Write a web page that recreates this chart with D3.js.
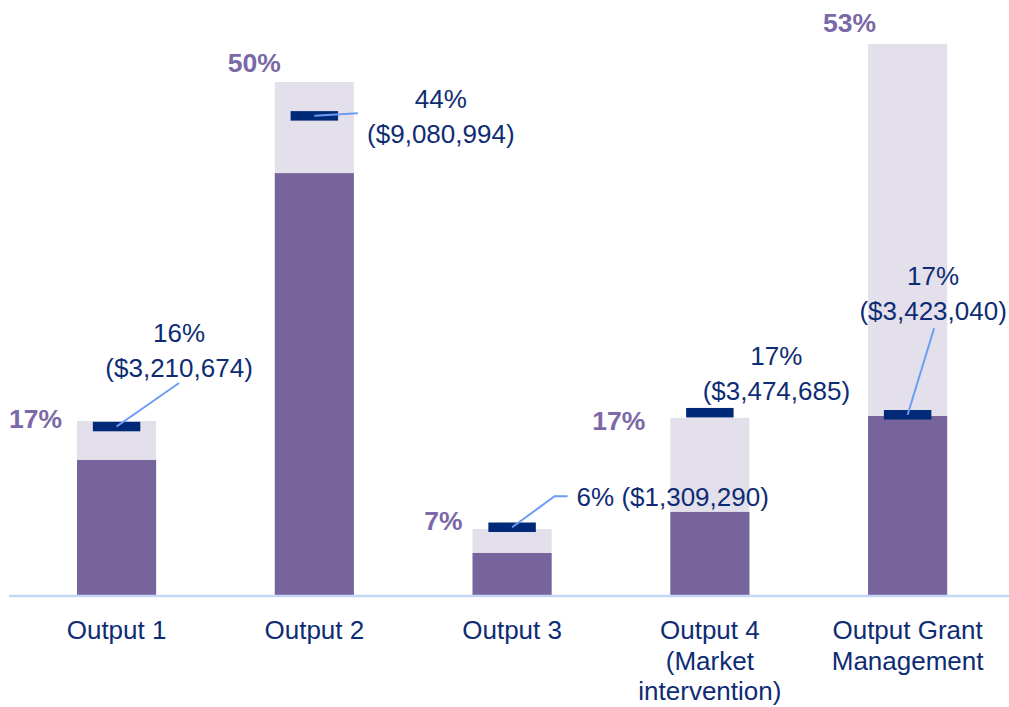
<!DOCTYPE html>
<html>
<head>
<meta charset="utf-8">
<script src="https://cdn.jsdelivr.net/npm/d3@7"></script>
<style>
  body { margin: 0; background: #fff; }
  text { font-family: "Liberation Sans", Arial, sans-serif; }
</style>
</head>
<body>
<svg width="1009" height="707"></svg>
<script>
// data (percent of budget)
const categories = ['Output 1', 'Output 2', 'Output 3', 'Output 4|(Market|intervention)', 'Output Grant|Management'];
const plannedShare = [16.8, 49.35, 6.43, 17.1, 53.0];     // light bar
const spentShare = [13.06, 40.6, 4.13, 8.07, 17.28];      // dark bar
const markerShare = [16.27, 46.1, 6.6, 17.6, 17.4];       // navy marker
const totalLabels = ['17%', '50%', '7%', '17%', '53%'];
const markerLabels = [
  ['16%', '($3,210,674)'],
  ['44%', '($9,080,994)'],
  ['6% ($1,309,290)'],
  ['17%', '($3,474,685)'],
  ['17%', '($3,423,040)']
];

// hand placed label offsets (like the original slide)
const totalLabelOffset = [[-15, 7], [6, -10], [-10, 1], [-25, 12], [8, -12]];
const markerLabelOffset = [[62.5, -84.5, 'middle'], [126.5, -7.5, 'middle'], [64.5, -21, 'start'], [66.5, -47.5, 'middle'], [25.5, -129.5, 'middle']];
const leaderPoints = [[[62.5, -43.5]], [[43.5, -2.5]], [[42.5, -31], [55.5, -31]], [], [[26.5, -86.5]]];

const svg = d3.select('svg');
const baseY = 596;

const x = d3.scaleBand()
  .domain(d3.range(categories.length))
  .range([17.7, 1006.5])
  .paddingInner(0.6)
  .paddingOuter(0.3);

const y = d3.scaleLinear()
  .domain([0, 53])
  .range([baseY, 44]);

const g = svg.append('g');

// light bars
g.selectAll('rect.planned').data(plannedShare)
  .enter().append('rect')
    .attr('class', 'planned')
    .attr('x', (d, i) => x(i))
    .attr('y', d => y(d))
    .attr('width', x.bandwidth())
    .attr('height', d => baseY - y(d))
    .attr('fill', '#e3e0ec');

// dark bars
g.selectAll('rect.spent').data(spentShare)
  .enter().append('rect')
    .attr('class', 'spent')
    .attr('x', (d, i) => x(i))
    .attr('y', d => y(d))
    .attr('width', x.bandwidth())
    .attr('height', d => baseY - y(d))
    .attr('fill', '#77649c');

// axis line
const xAxis = d3.axisBottom(x).tickSize(0).tickFormat('');
const axisG = svg.append('g')
  .attr('transform', `translate(0,${baseY})`)
  .call(xAxis);
axisG.select('.domain')
  .attr('d', 'M9,0H1009')
  .attr('stroke', '#c6d6f6')
  .attr('stroke-width', 2.5);

// category labels
categories.forEach((c, i) => {
  const t = svg.append('text')
    .attr('x', x(i) + x.bandwidth() / 2)
    .attr('y', 639)
    .attr('text-anchor', 'middle')
    .attr('font-size', 26)
    .attr('fill', '#0e2c74');
  c.split('|').forEach((line, k) => {
    t.append('tspan')
      .attr('x', x(i) + x.bandwidth() / 2)
      .attr('dy', k === 0 ? 0 : 30.5)
      .text(line);
  });
});

// total % labels
g.selectAll('text.total').data(totalLabels)
  .enter().append('text')
    .attr('class', 'total')
    .attr('x', (d, i) => x(i) + totalLabelOffset[i][0])
    .attr('y', (d, i) => y(plannedShare[i]) + totalLabelOffset[i][1])
    .attr('text-anchor', 'end')
    .attr('font-size', 26.5)
    .attr('font-weight', 'bold')
    .attr('fill', '#7b68a6')
    .text(d => d);

const mw = x.bandwidth() * 0.6;
const mh = 9.5;

// leader lines
markerShare.forEach((d, i) => {
  const cx = x(i) + x.bandwidth() / 2;
  const cy = y(d);
  if (!leaderPoints[i].length) return;
  const pts = [[cx, cy]].concat(leaderPoints[i].map(p => [cx + p[0], cy + p[1]]));
  g.append('path')
    .attr('d', d3.line()(pts))
    .attr('fill', 'none')
    .attr('stroke', '#6d9cf6')
    .attr('stroke-width', 2);
});

// navy markers (under the leader start like the original)
g.selectAll('rect.marker').data(markerShare)
  .enter().insert('rect', 'path')
    .attr('class', 'marker')
    .attr('x', (d, i) => x(i) + (x.bandwidth() - mw) / 2)
    .attr('y', d => y(d) - mh / 2)
    .attr('width', mw)
    .attr('height', mh)
    .attr('fill', '#002a78');

// marker labels
markerLabels.forEach((lines, i) => {
  const cx = x(i) + x.bandwidth() / 2;
  const cy = y(markerShare[i]);
  const off = markerLabelOffset[i];
  const t = g.append('text')
    .attr('x', cx + off[0])
    .attr('y', cy + off[1])
    .attr('text-anchor', off[2])
    .attr('font-size', 26)
    .attr('fill', '#0e2c74');
  lines.forEach((line, k) => {
    t.append('tspan')
      .attr('x', cx + off[0])
      .attr('dy', k === 0 ? 0 : 35)
      .text(line);
  });
});
</script>
</body>
</html>
